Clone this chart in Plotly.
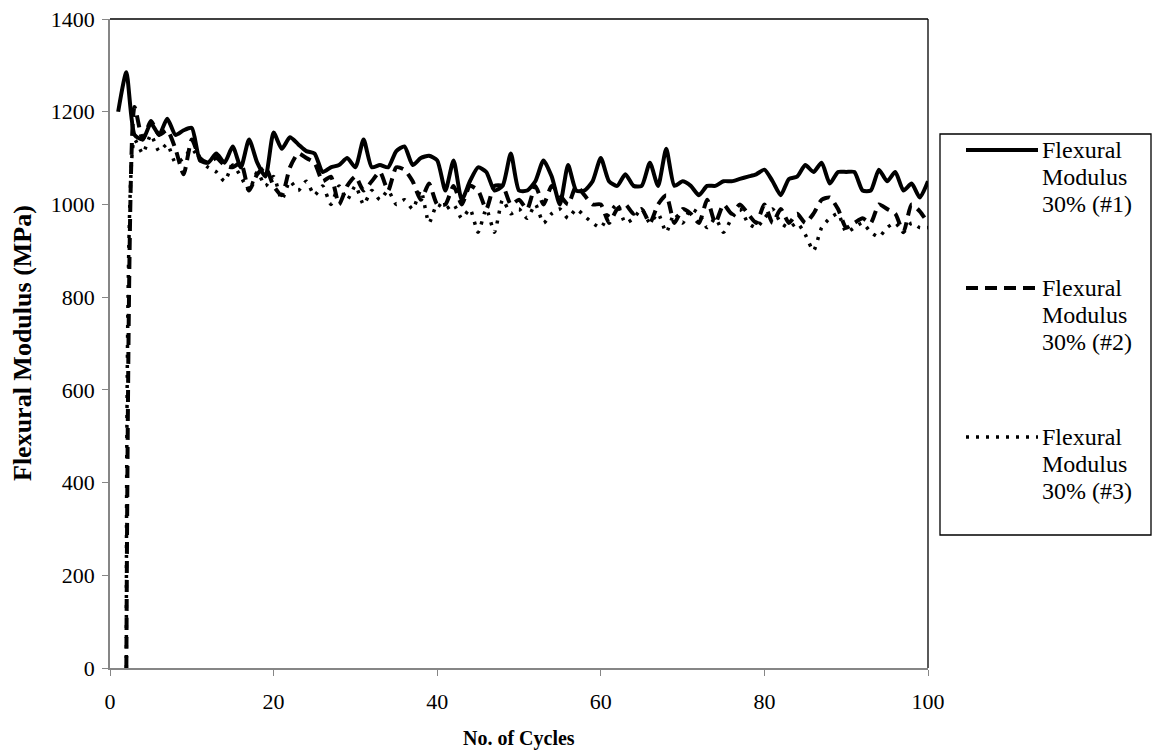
import plotly.graph_objects as go

cycles1 = list(range(1, 101))
modulus1 = [1200, 1285, 1150, 1140, 1175, 1150, 1185, 1150, 1160, 1165,
            1095, 1090, 1110, 1090, 1125, 1080, 1140, 1090, 1060, 1155,
            1120, 1145, 1130, 1115, 1110, 1070, 1080, 1085, 1100, 1080,
            1140, 1080, 1085, 1080, 1115, 1125, 1085, 1100, 1105, 1095,
            1030, 1095, 1010, 1050, 1080, 1070, 1030, 1040, 1110, 1030,
            1030, 1050, 1095, 1060, 1000, 1085, 1030, 1030, 1050, 1100,
            1050, 1040, 1065, 1040, 1040, 1090, 1040, 1120, 1040, 1050,
            1040, 1020, 1040, 1040, 1050, 1050, 1055, 1060, 1065, 1075,
            1050, 1020, 1055, 1060, 1085, 1070, 1090, 1045, 1070, 1070,
            1070, 1030, 1030, 1075, 1050, 1070, 1030, 1045, 1015, 1050]

cycles2 = list(range(2, 101))
modulus2 = [0, 1210, 1140, 1180, 1150, 1160, 1120, 1065, 1140,
            1100, 1090, 1100, 1085, 1080, 1090, 1030, 1065, 1080, 1040,
            1020, 1080, 1110, 1100, 1090, 1050, 1060, 1000, 1040, 1060,
            1030, 1050, 1070, 1030, 1080, 1075, 1050, 1010, 1045, 1000,
            1000, 1040, 1000, 1040, 1030, 990, 1040, 1040, 1000, 1010,
            990, 1040, 1000, 1040, 1020, 1000, 1040, 1020, 1000, 1000,
            960, 990, 1000, 980, 990, 960, 1000, 1020, 960, 990,
            980, 960, 1010, 960, 1000, 980, 1000, 980, 960, 1000,
            960, 990, 960, 980, 960, 980, 1010, 1015, 990, 950,
            960, 970, 960, 1000, 990, 980, 940, 1000, 985, 960]

cycles3 = list(range(2, 101))
modulus3 = [0, 1140, 1110, 1150, 1115, 1130, 1090, 1100, 1120,
            1095, 1080, 1070, 1050, 1085, 1060, 1030, 1070, 1040, 1060,
            1010, 1050, 1030, 1050, 1020, 1040, 1000, 1040, 1010, 1040,
            1000, 1030, 1010, 1030, 1000, 1010, 990, 1030, 960, 1000,
            990, 1000, 970, 990, 940, 990, 940, 1010, 980, 990,
            970, 1000, 960, 980, 990, 970, 990, 975, 960, 950,
            980, 1000, 960, 970, 990, 960, 980, 940, 980, 960,
            990, 980, 950, 970, 940, 970, 990, 960, 950, 970,
            990, 960, 950, 960, 935, 900, 950, 970, 980, 940,
            950, 960, 940, 930, 950, 960, 940, 960, 950, 950]

names = [["Flexural", "Modulus", "30% (#1)"],
         ["Flexural", "Modulus", "30% (#2)"],
         ["Flexural", "Modulus", "30% (#3)"]]
dashes = ["solid", "12px,7px", "3px,7px"]
widths = [4, 4, 3.5]

FONT = "Liberation Serif"

fig = go.Figure()
for xs, ys, d, w in [(cycles1, modulus1, dashes[0], widths[0]),
                     (cycles2, modulus2, dashes[1], widths[1]),
                     (cycles3, modulus3, dashes[2], widths[2])]:
    fig.add_trace(go.Scatter(x=xs, y=ys, mode="lines", showlegend=False,
                             line=dict(color="black", width=w, dash=d, shape="spline", smoothing=0.6)))

L, R, T, B = 110, 224, 19, 83
PW = 1152 - L - R
PH = 751 - T - B

def px(x):
    return (x - L) / PW

def py(y):
    return (751 - B - y) / PH

shapes = []
shapes.append(dict(type="line", xref="paper", yref="paper", x0=0, x1=1, y0=1, y1=1,
                   line=dict(color="black", width=1.3)))
shapes.append(dict(type="line", xref="paper", yref="paper", x0=1, x1=1, y0=0, y1=1,
                   line=dict(color="black", width=1.3)))
shapes.append(dict(type="rect", xref="paper", yref="paper", x0=px(940), x1=px(1151),
                   y0=py(535), y1=py(134), line=dict(color="black", width=1.3)))

annotations = []
entry_y = [150, 288, 437]
for i in range(3):
    y = entry_y[i]
    shapes.append(dict(type="line", xref="paper", yref="paper", x0=px(966), x1=px(1038),
                       y0=py(y), y1=py(y), line=dict(color="black", width=widths[i], dash=dashes[i])))
    for j, t in enumerate(names[i]):
        annotations.append(dict(xref="paper", yref="paper", x=px(1040), y=py(y + 27 * j),
                                xanchor="left", yanchor="middle", showarrow=False, align="left",
                                text=t, font=dict(family=FONT, size=24, color="black")))

annotations.append(dict(xref="paper", yref="paper", x=px(519), y=py(739), xanchor="center",
                        yanchor="middle", showarrow=False, text="<b>No. of Cycles</b>",
                        font=dict(family=FONT, size=20, color="black")))
annotations.append(dict(xref="paper", yref="paper", x=px(22), y=py(343), xanchor="center",
                        yanchor="middle", showarrow=False, textangle=-90,
                        text="<b>Flexural Modulus (MPa)</b>",
                        font=dict(family=FONT, size=26, color="black")))

fig.update_layout(
    width=1152, height=751,
    margin=dict(l=L, r=R, t=T, b=B),
    paper_bgcolor="white", plot_bgcolor="white",
    font=dict(family=FONT, size=21, color="black"),
    shapes=shapes, annotations=annotations,
    xaxis=dict(range=[0, 100], tickvals=[0, 20, 40, 60, 80, 100], showgrid=False, zeroline=False,
               showline=True, linecolor="#868686", linewidth=1.5, ticks="outside", ticklen=6,
               tickcolor="#868686", tickfont=dict(family=FONT, size=22), automargin=False,
               ticklabelstandoff=7),
    yaxis=dict(range=[0, 1400], tickvals=list(range(0, 1401, 200)), showgrid=False, zeroline=False,
               showline=True, linecolor="#868686", linewidth=1.5, ticks="outside", ticklen=6,
               tickcolor="#868686", tickfont=dict(family=FONT, size=22), automargin=False,
               ticklabelstandoff=3),
)

fig.write_html("out.html")
